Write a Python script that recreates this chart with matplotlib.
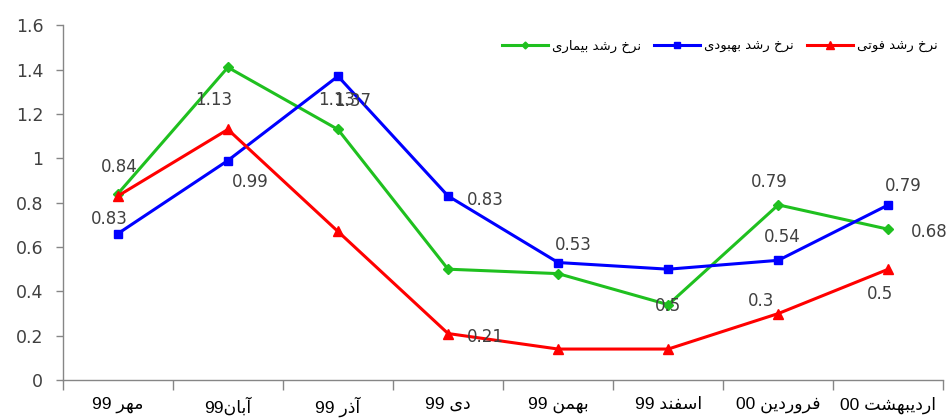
import re
import matplotlib
matplotlib.use('Agg')
import matplotlib.pyplot as plt
from matplotlib.ticker import FixedLocator

plt.rcParams['font.family'] = ['DejaVu Sans']

# ماه ها و نرخ ها
months = ['مهر 99', 'آبان99', 'آذر 99', 'دی 99', 'بهمن 99', 'اسفند 99', 'فروردین 00', 'اردیبهشت 00']
sick_rate = [0.84, 1.41, 1.13, 0.50, 0.48, 0.34, 0.79, 0.68]
recover_rate = [0.66, 0.99, 1.37, 0.83, 0.53, 0.50, 0.54, 0.79]
death_rate = [0.83, 1.13, 0.67, 0.21, 0.14, 0.14, 0.30, 0.50]
sick_name = 'نرخ رشد بیماری'
recover_name = 'نرخ رشد بهبودی'
death_name = 'نرخ رشد فوتی'

# برچسب ها: (اندیس، جابجایی به پیکسل)
sick_labels = [(0, (1, 27)), (2, (-1, 29)), (6, (-9, 23)), (7, (41, -3))]
recover_labels = [(1, (22, -21)), (2, (15, -25)), (3, (37, -4)), (4, (15, 18)),
                  (5, (0, -37)), (6, (4, 23)), (7, (15, 19))]
death_labels = [(0, (-8, -23)), (1, (-14, 29)), (3, (37, -3)), (6, (-17, 13)), (7, (-8, -25))]

FORMS = {
    'ا': ('\uFE8D', '\uFE8E'), 'آ': ('\uFE81', '\uFE82'),
    'ب': ('\uFE8F', '\uFE90', '\uFE91', '\uFE92'), 'ت': ('\uFE95', '\uFE96', '\uFE97', '\uFE98'),
    'خ': ('\uFEA5', '\uFEA6', '\uFEA7', '\uFEA8'), 'د': ('\uFEA9', '\uFEAA'),
    'ذ': ('\uFEAB', '\uFEAC'), 'ر': ('\uFEAD', '\uFEAE'), 'ز': ('\uFEAF', '\uFEB0'),
    'س': ('\uFEB1', '\uFEB2', '\uFEB3', '\uFEB4'), 'ش': ('\uFEB5', '\uFEB6', '\uFEB7', '\uFEB8'),
    'ف': ('\uFED1', '\uFED2', '\uFED3', '\uFED4'), 'ق': ('\uFED5', '\uFED6', '\uFED7', '\uFED8'),
    'م': ('\uFEE1', '\uFEE2', '\uFEE3', '\uFEE4'), 'ن': ('\uFEE5', '\uFEE6', '\uFEE7', '\uFEE8'),
    'ه': ('\uFEE9', '\uFEEA', '\uFEEB', '\uFEEC'), 'و': ('\uFEED', '\uFEEE'),
    'ی': ('\uFEEF', '\uFEF0', '\uFEF3', '\uFEF4'),
}


def shape(text):
    # حروف چسبیده + راست به چپ
    out = []
    for i, ch in enumerate(text):
        if ch not in FORMS:
            out.append(ch)
            continue
        prev = text[i - 1] if i > 0 else ''
        nxt = text[i + 1] if i < len(text) - 1 else ''
        jp = prev in FORMS and len(FORMS[prev]) == 4
        jn = len(FORMS[ch]) == 4 and nxt in FORMS
        f = FORMS[ch]
        if jp and jn:
            out.append(f[3])
        elif jp:
            out.append(f[1])
        elif jn:
            out.append(f[2])
        else:
            out.append(f[0])
    return ''.join(reversed(out))


def month_label(s):
    m = re.match(r'(\D+?)(\s*)(\d+)$', s)
    return m.group(3) + m.group(2) + shape(m.group(1))


fig = plt.figure(figsize=(9.51, 4.2), dpi=100)
ax = fig.add_axes([0.066, 0.095, 0.926, 0.845])

x = list(range(len(months)))
green, blue, red = '#1fc01f', '#0000ff', '#ff0000'
ax.plot(x, sick_rate, color=green, lw=2.2, marker='D', ms=5, label=shape(sick_name))
ax.plot(x, recover_rate, color=blue, lw=2.2, marker='s', ms=5.5, label=shape(recover_name))
ax.plot(x, death_rate, color=red, lw=2.2, marker='^', ms=7.5, label=shape(death_name))

for series, labels in [(sick_rate, sick_labels), (recover_rate, recover_labels), (death_rate, death_labels)]:
    for i, off in labels:
        ax.annotate('{:g}'.format(series[i]), (i, series[i]), xytext=off, textcoords='offset pixels',
                    ha='center', va='center', fontsize=12, color='#404040')

ax.set_xlim(-0.5, len(months) - 0.5)
ax.set_ylim(0, 1.6)
ax.yaxis.set_major_locator(FixedLocator([0, 0.2, 0.4, 0.6, 0.8, 1, 1.2, 1.4, 1.6]))
ax.set_yticklabels(['0', '0.2', '0.4', '0.6', '0.8', '1', '1.2', '1.4', '1.6'])
ax.set_xticks(x)
ax.set_xticklabels([month_label(m) for m in months], fontsize=12.5, family=['Liberation Sans', 'DejaVu Sans'])
ax.set_xticks([i - 0.5 for i in range(len(months) + 1)], minor=True)
ax.tick_params(axis='x', which='major', length=0, pad=12, colors='black')
ax.tick_params(axis='x', which='minor', length=7, color='#868686', width=1)
ax.tick_params(axis='y', length=5, width=1, labelsize=12.5, pad=9, labelcolor='#404040', color='#868686')

for side in ['top', 'right']:
    ax.spines[side].set_visible(False)
for side in ['left', 'bottom']:
    ax.spines[side].set_color('#868686')
    ax.spines[side].set_linewidth(1)

fig.legend(loc='center', bbox_to_anchor=(0.757, 0.89), ncol=3, frameon=False, fontsize=9.5,
           handlelength=3.5, handletextpad=0.3, columnspacing=1.0, markerscale=0.7)

fig.savefig('out.png', dpi=100)
